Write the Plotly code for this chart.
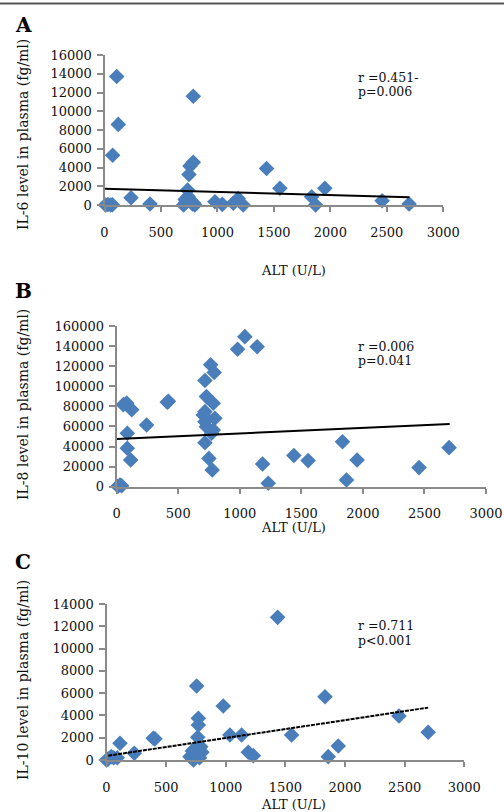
import plotly.graph_objects as go

W, H = 504, 812

# ---------------- data ----------------
A_alt = [108, 122, 72, 786, 786, 757, 748, 736, 1435, 1553, 1951, 235, 403,
         10, 30, 55, 70, 700, 720, 740, 760, 780, 800, 715, 790,
         978, 1043, 1140, 1184, 1228, 1834, 1869, 2458, 2697]
A_il6 = [13700, 8600, 5300, 11600, 4550, 4150, 3250, 1600, 3900, 1780, 1780, 780, 100,
         0, 50, 0, 20, 0, 300, 900, 500, 100, 0, 600, 200,
         350, 70, 180, 700, 0, 880, 0, 460, 100]
A_trend_x = [0, 2700]
A_trend_y = [1740, 820]

B_alt = [10, 27, 40, 54, 81, 122, 86, 86, 114, 243, 411, 420,
         717, 763, 792, 729, 784, 717, 703, 798, 717, 729, 784, 771, 717, 749, 776,
         982, 1041, 1141, 1185, 1231, 1439, 1555, 1834, 1953, 1867, 2456, 2700]
B_il8 = [500, 1700, 1000, 81700, 83400, 76700, 53200, 38300, 26600, 61500, 84100, 85000,
         105800, 121400, 113700, 89700, 83100, 74700, 71400, 68100, 64700, 59800, 56500, 53200, 43800, 28200, 16600,
         136900, 149400, 139400, 22600, 3400, 31000, 26000, 44800, 26600, 6700, 19000, 38900]
B_trend_x = [0, 2705]
B_trend_y = [47600, 62400]

C_alt = [0, 15, 40, 60, 90, 113, 233, 392, 406,
         756, 770, 770, 765, 700, 720, 740, 760, 780, 800, 730, 790,
         979, 1035, 1133, 1189, 1231, 1435, 1552, 1832, 1859, 1943, 2452, 2697]
C_il10 = [0, 100, 300, 200, 200, 1500, 600, 1950, 1900,
          6640, 3740, 3140, 2040, 300, 800, 1000, 500, 200, 700, 0, 1200,
          4850, 2240, 2240, 690, 390, 12800, 2240, 5680, 300, 1250, 3950, 2490]
C_trend_x = [15, 2697]
C_trend_y = [390, 4700]

x_ticks = [0, 500, 1000, 1500, 2000, 2500, 3000]
A_yticks = list(range(0, 16001, 2000))
B_yticks = list(range(0, 160001, 20000))
C_yticks = list(range(0, 14001, 2000))

panels = [
    dict(letter="A", x=A_alt, y=A_il6, tx=A_trend_x, ty=A_trend_y, yt=A_yticks,
         ytitle="IL-6 level in plasma (fg/ml)", r="r =0.451-", p="p=0.006",
         px=(104.5, 443.3), py=(205, 55), letter_y=25, ytitle_y=135, rp_y=(77, 92),
         xtitle_y=270, dash="solid"),
    dict(letter="B", x=B_alt, y=B_il8, tx=B_trend_x, ty=B_trend_y, yt=B_yticks,
         ytitle="IL-8 level in plasma (fg/ml)", r="r =0.006", p="p=0.041",
         px=(116.7, 486.0), py=(486.7, 326), letter_y=291, ytitle_y=405, rp_y=(346, 361),
         xtitle_y=527, dash="solid"),
    dict(letter="C", x=C_alt, y=C_il10, tx=C_trend_x, ty=C_trend_y, yt=C_yticks,
         ytitle="IL-10 level in plasma (fg/ml)", r="r =0.711", p="p<0.001",
         px=(106.5, 464.3), py=(760, 604), letter_y=562, ytitle_y=680, rp_y=(625, 640),
         xtitle_y=804, dash="4px,1px"),
]

FONT = "DejaVu Serif"
BLUE = "#4a7ebb"
AX = "#8a8a8a"

fig = go.Figure()
annotations = []

def fx(p):
    return p / W

def fy(p):
    return 1 - p / H

for i, pn in enumerate(panels, start=1):
    xa = "x" if i == 1 else f"x{i}"
    ya = "y" if i == 1 else f"y{i}"
    fig.add_trace(go.Scatter(
        x=pn["x"], y=pn["y"], mode="markers", xaxis=xa, yaxis=ya,
        marker=dict(symbol="diamond", size=12, color=BLUE,
                    line=dict(width=0)),
        cliponaxis=False, showlegend=False))
    fig.add_trace(go.Scatter(
        x=pn["tx"], y=pn["ty"], mode="lines", xaxis=xa, yaxis=ya,
        line=dict(color="black", width=2, dash=pn["dash"]),
        cliponaxis=False, showlegend=False))

    ymax = pn["yt"][-1]
    xkey = "xaxis" if i == 1 else f"xaxis{i}"
    ykey = "yaxis" if i == 1 else f"yaxis{i}"
    fig.update_layout(**{
        xkey: dict(domain=[fx(pn["px"][0]), fx(pn["px"][1])], range=[0, 3000],
                   anchor=ya, tickvals=x_ticks, ticktext=[str(v) for v in x_ticks],
                   showgrid=False, zeroline=False, showline=True, linecolor=AX, linewidth=2,
                   ticks="outside", ticklen=5, tickwidth=1.5, tickcolor=AX,
                   automargin=False, ticklabelstandoff=9,
                   tickfont=dict(family=FONT, size=13, color="#111")),
        ykey: dict(domain=[fy(pn["py"][0]), fy(pn["py"][1])], range=[0, ymax],
                   anchor=xa, tickvals=pn["yt"], ticktext=[str(v) for v in pn["yt"]],
                   showgrid=False, zeroline=False, showline=True, linecolor=AX, linewidth=2,
                   ticks="outside", ticklen=6, tickwidth=1.5, tickcolor=AX,
                   automargin=False, ticklabelstandoff=2,
                   tickfont=dict(family=FONT, size=13, color="#111")),
    })

    # panel letter
    annotations.append(dict(text=f"<b>{pn['letter']}</b>", x=fx(13), y=fy(pn["letter_y"]),
                            xref="paper", yref="paper", xanchor="left", yanchor="middle",
                            showarrow=False, font=dict(family=FONT, size=20, color="black")))
    # y title
    annotations.append(dict(text=pn["ytitle"], x=fx(23), y=fy(pn["ytitle_y"]),
                            xref="paper", yref="paper", xanchor="center", yanchor="middle",
                            textangle=-90, showarrow=False,
                            font=dict(family=FONT, size=14, color="#111")))
    # x title
    annotations.append(dict(text="ALT (U/L)", x=fx(293), y=fy(pn["xtitle_y"]),
                            xref="paper", yref="paper", xanchor="center", yanchor="middle",
                            showarrow=False, font=dict(family=FONT, size=13, color="#111")))
    # r / p
    annotations.append(dict(text=pn["r"], x=fx(356), y=fy(pn["rp_y"][0]),
                            xref="paper", yref="paper", xanchor="left", yanchor="middle",
                            showarrow=False, font=dict(family=FONT, size=12.5, color="#111")))
    annotations.append(dict(text=pn["p"], x=fx(356), y=fy(pn["rp_y"][1]),
                            xref="paper", yref="paper", xanchor="left", yanchor="middle",
                            showarrow=False, font=dict(family=FONT, size=12.5, color="#111")))

fig.update_layout(
    width=W, height=H, margin=dict(l=0, r=0, t=0, b=0, autoexpand=False),
    paper_bgcolor="white", plot_bgcolor="white",
    annotations=annotations,
    shapes=[dict(type="line", xref="paper", yref="paper", x0=0, x1=1,
                 y0=fy(3.5), y1=fy(3.5), line=dict(color="#555", width=2))],
)

fig.write_html("out.html", config={"displayModeBar": False},
               post_script="document.body.style.margin='0';document.body.style.overflow='hidden';")
